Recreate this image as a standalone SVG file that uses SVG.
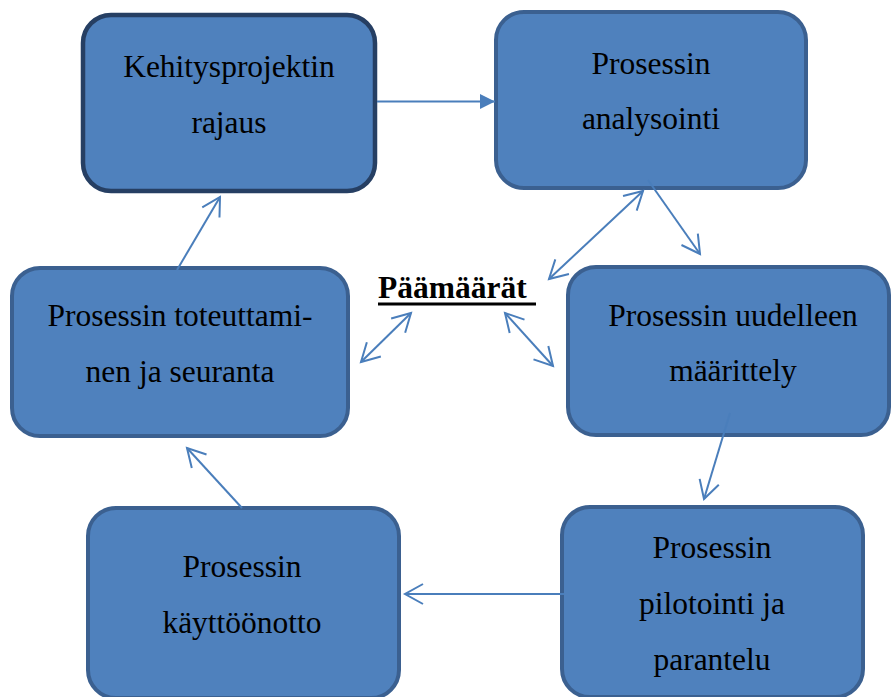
<svg xmlns="http://www.w3.org/2000/svg" width="891" height="697" viewBox="0 0 891 697">
  <style>
    .box { fill: #4f81bd; stroke: #3b6090; stroke-width: 4; }
    .box-dark { stroke: #263f63; stroke-width: 4.5; }
    .lbl { font-family: "Liberation Serif", "DejaVu Serif", serif; font-size: 31.5px; font-weight: normal; fill: #000; text-anchor: middle; }
    .goal { font-family: "Liberation Serif", "DejaVu Serif", serif; font-size: 31.5px; font-weight: bold; fill: #000; }
    .link { fill: none; stroke: #4a7ebb; stroke-width: 2; }
  </style>
  <defs>
    <marker id="open" markerUnits="userSpaceOnUse" markerWidth="24" markerHeight="26" viewBox="-2 -3 24 26" refX="18" refY="10" orient="auto-start-reverse">
      <path d="M0,0 L18,10 L0,20" fill="none" stroke="#4a7ebb" stroke-width="2"/>
    </marker>
    <marker id="solid" markerUnits="userSpaceOnUse" markerWidth="16" markerHeight="16" viewBox="0 0 16 16" refX="15" refY="8" orient="auto">
      <path d="M0,0.5 L15,8 L0,15.5 Z" fill="#4a7ebb"/>
    </marker>
  </defs>

  <rect width="891" height="697" fill="#fff"/>

  <!-- process steps -->
  <g id="node-rajaus">
    <rect class="box box-dark" x="83" y="15" width="292" height="176" rx="28"/>
    <text class="lbl" x="229" y="77">Kehitysprojektin</text>
    <text class="lbl" x="229" y="133">rajaus</text>
  </g>
  <g id="node-analysointi">
    <rect class="box" x="496" y="12" width="310" height="176" rx="28"/>
    <text class="lbl" x="651" y="74">Prosessin</text>
    <text class="lbl" x="651" y="129">analysointi</text>
  </g>
  <g id="node-maarittely">
    <rect class="box" x="568" y="267" width="321" height="168" rx="28"/>
    <text class="lbl" x="733" y="326">Prosessin uudelleen</text>
    <text class="lbl" x="733" y="381">määrittely</text>
  </g>
  <g id="node-pilotointi">
    <rect class="box" x="562" y="507" width="301" height="190" rx="28"/>
    <text class="lbl" x="712" y="558">Prosessin</text>
    <text class="lbl" x="712" y="614">pilotointi ja</text>
    <text class="lbl" x="712" y="670">parantelu</text>
  </g>
  <g id="node-kayttoonotto">
    <rect class="box" x="88" y="508" width="311" height="190" rx="28"/>
    <text class="lbl" x="242" y="577">Prosessin</text>
    <text class="lbl" x="242" y="633">käyttöönotto</text>
  </g>
  <g id="node-toteuttaminen">
    <rect class="box" x="12" y="268" width="336" height="168" rx="28"/>
    <text class="lbl" x="180" y="326">Prosessin toteuttami-</text>
    <text class="lbl" x="180" y="382">nen ja seuranta</text>
  </g>

  <!-- central goal -->
  <g id="node-paamaarat">
    <text class="goal" x="378" y="298">Päämäärät</text>
    <rect x="378" y="302.5" width="158" height="3" fill="#000"/>
  </g>

  <!-- connectors -->
  <g id="connectors">
    <line class="link" x1="377" y1="101.5" x2="495" y2="101.5" marker-end="url(#solid)"/>
    <line class="link" x1="648" y1="180" x2="700" y2="254" marker-end="url(#open)"/>
    <line class="link" x1="643" y1="191" x2="549" y2="279" marker-start="url(#open)" marker-end="url(#open)"/>
    <line class="link" x1="411" y1="313" x2="361" y2="362" marker-start="url(#open)" marker-end="url(#open)"/>
    <line class="link" x1="505" y1="313" x2="553" y2="366" marker-start="url(#open)" marker-end="url(#open)"/>
    <line class="link" x1="730" y1="413" x2="704" y2="499" marker-end="url(#open)"/>
    <line class="link" x1="564" y1="594" x2="405" y2="594" marker-end="url(#open)"/>
    <line class="link" x1="242" y1="508" x2="187" y2="448" marker-end="url(#open)"/>
    <line class="link" x1="177" y1="270" x2="220" y2="197" marker-end="url(#open)"/>
  </g>
</svg>
